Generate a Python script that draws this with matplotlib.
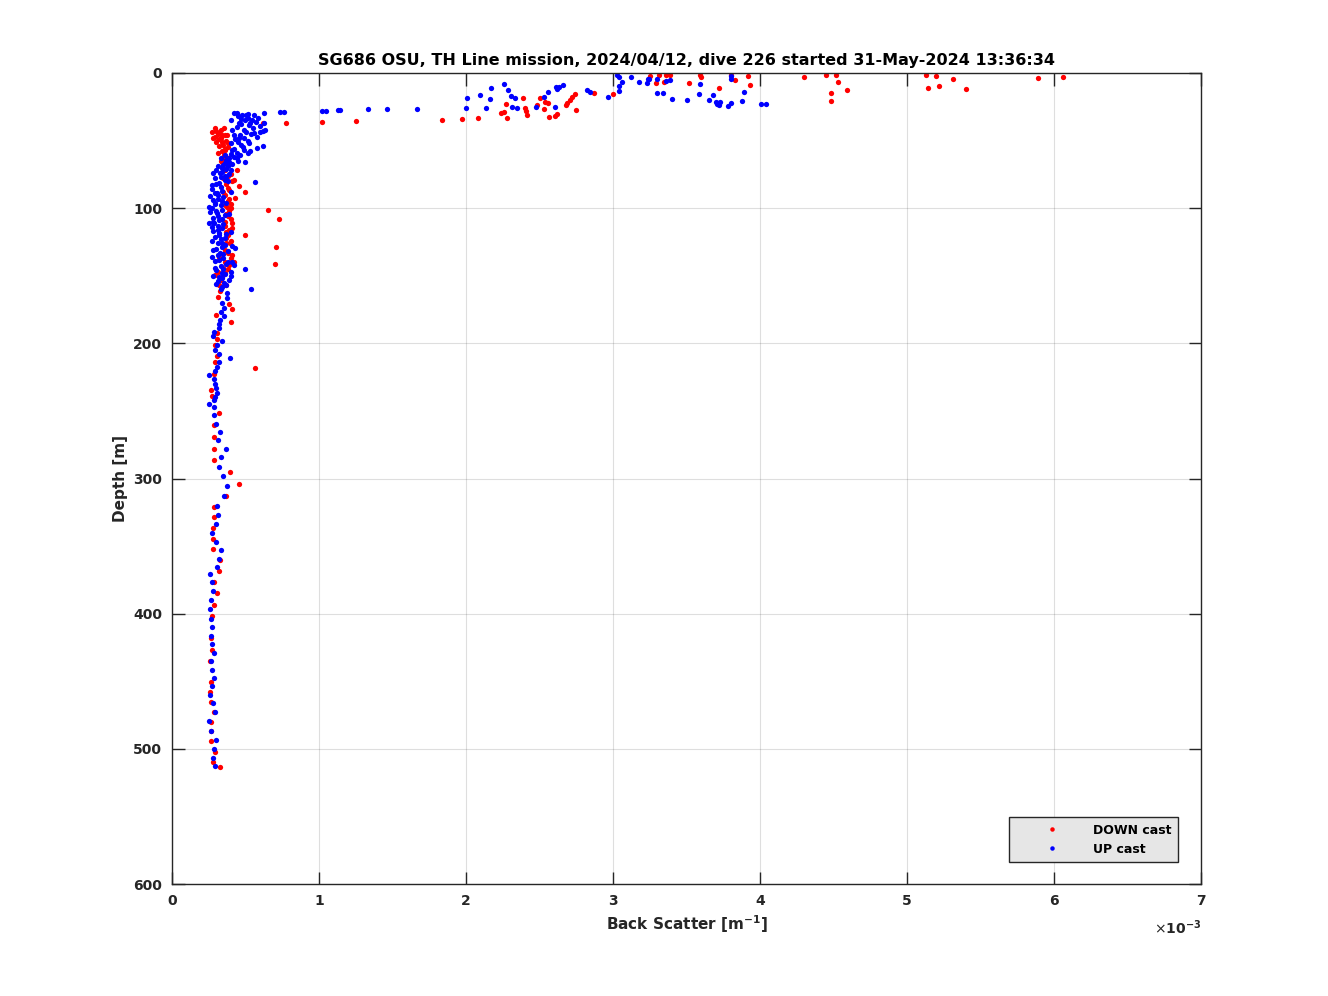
"""
SG686 dive 226 backscatter profile, down and up casts
"""

import numpy as np
import matplotlib.pyplot as plt

#------------------------------------------------------------------------------
# data: depth [m], back scatter [1e-3 m^-1]

down_depth = [3, 4, 12, 4.5, 9.5, 2, 11, 1.5,
              12.5, 7, 1.5, 15, 21, 1.5, 3,
              9, 2, 5, 1.5, 11, 7.4, 1.5, 3,
              2.2, 7.4, 1.5, 1.5, 1.5, 6.7, 15.5, 14.8,
              34.8, 34, 33.3, 29.6, 28.9, 33.3, 22.9, 18.5, 25.9, 28.1, 31.1,
              23.7, 18.5, 26.6, 21.5, 22.2, 32.6, 31.8, 30.3, 23.7, 22.2, 20.0,
              17.8, 15.5, 27.4, 36.3, 35.5, 37, 37,
              44.4, 40.7, 45.9, 51, 57, 60.7, 71.8, 79.2, 83.6, 88, 92.5, 86.6,
              99, 101.4, 108, 111, 119.8, 128.7, 141.3, 125.8, 136, 139.8, 149.4,
              42, 43, 45, 47, 48, 50, 53, 55, 58, 62, 65, 68, 75, 82, 90, 95, 97,
              104, 113, 116, 122, 131, 144, 147,
              100, 106, 110, 115, 118, 124, 128, 133, 137, 140, 145, 151, 85, 88,
              93, 78, 72, 66, 46, 49, 52,
              41, 44, 46, 48, 51, 54, 56, 59, 63, 70, 76, 80, 98, 102, 108, 120,
              126, 135, 142, 148, 153, 157,
              156.8, 161.3, 165.7, 170.9, 174.6, 179, 184, 192.3, 196.8, 201,
              209.4, 213.6, 218.5, 222.7, 234.5, 239, 251.5, 260.4, 269, 278,
              286.3, 295, 304, 313, 320.9, 328.7, 336.4,
              344.5, 352.4, 360.5, 368.4, 376.6, 384.7, 393.4, 401.7, 418.2,
              426.9, 435, 450.3, 457.7, 465.1, 472.7, 479.9, 486.8, 494, 502.1,
              509.5, 513.7]

down_bs = [6.06, 5.89, 5.40, 5.31, 5.22, 5.20, 5.14, 5.13,
           4.59, 4.53, 4.52, 4.48, 4.48, 4.45, 4.30,
           3.93, 3.92, 3.83, 3.80, 3.72, 3.52, 3.59, 3.60,
           3.25, 3.29, 3.31, 3.36, 3.39, 3.35, 3.00, 2.87,
           1.84, 1.97, 2.08, 2.24, 2.26, 2.28, 2.27, 2.39, 2.40, 2.41, 2.415,
           2.48, 2.50, 2.53, 2.54, 2.56, 2.565, 2.605, 2.62, 2.68, 2.69, 2.71,
           2.72, 2.74, 2.75, 1.02, 1.25, 0.776, 0.62,
           0.32, 0.354, 0.374, 0.34, 0.36, 0.354, 0.442, 0.42, 0.456, 0.497, 0.429, 0.388,
           0.374, 0.653, 0.728, 0.408, 0.497, 0.707, 0.70, 0.395, 0.32, 0.42, 0.293,
           0.33, 0.30, 0.31, 0.29, 0.33, 0.37, 0.35, 0.38, 0.34, 0.37, 0.33, 0.38, 0.40, 0.37, 0.36, 0.38, 0.40,
           0.37, 0.36, 0.39, 0.37, 0.36, 0.35, 0.31,
           0.40, 0.38, 0.36, 0.41, 0.37, 0.40, 0.35, 0.38, 0.40, 0.36, 0.38, 0.34, 0.38, 0.35,
           0.39, 0.35, 0.36, 0.34, 0.36, 0.32, 0.38,
           0.29, 0.27, 0.34, 0.28, 0.30, 0.32, 0.36, 0.31, 0.35, 0.35, 0.38, 0.41,
           0.36, 0.39, 0.40, 0.38, 0.37, 0.41, 0.39, 0.36, 0.33, 0.37,
           0.318, 0.329, 0.311, 0.39, 0.408, 0.299, 0.403, 0.306, 0.306, 0.295,
           0.306, 0.295, 0.567, 0.284, 0.268, 0.272, 0.318, 0.284, 0.284, 0.284,
           0.284, 0.395, 0.454, 0.367, 0.284, 0.288, 0.279,
           0.279, 0.279, 0.327, 0.318, 0.288, 0.308, 0.286, 0.27, 0.265,
           0.272, 0.261, 0.265, 0.256, 0.265, 0.284, 0.263, 0.265, 0.267, 0.293,
           0.281, 0.324]

up_depth = [25.9, 18.5, 16.3, 25.9, 19.2, 11.1, 8.1, 12.6, 17.0, 18.5, 25.2,
            25.9, 25.2, 17.8, 14.1, 10.4, 11.8, 10.4, 8.9, 25.2, 12.6, 14.1,
            17.8, 3.0, 6.7, 13.3, 9.6, 3.0, 6.7, 4.4, 7.4, 14.8, 14.8, 19.2,
            20.0, 15.5, 8.1, 20.0, 16.3, 21.5, 22.9, 23.7, 21.5, 24.4, 22.2,
            2.2, 4.4, 20.7, 14.1, 22.9, 22.9, 4.4, 4.4, 5.9, 5.2, 1.5,
            29.6, 29.6, 31.1, 30.3, 31.1, 29.6, 28.9, 28.9, 28.1, 28.1, 27.4,
            27.4, 26.6, 26.6, 26.6,
            33.3, 34.8, 34.8, 37, 38.5, 37, 43.6, 42.2, 42.2, 44.4, 45.9, 48.1,
            51.8, 55.5, 57, 59.2, 65.8, 62.9, 66.6, 70.3, 74, 80.6, 81.4, 88.8,
            96.2, 103.6, 111, 118.4, 125.8, 129.5, 133.2, 139.8, 145, 148, 155.4,
            159.8, 162.8, 166.5,
            68, 72, 76, 78, 84, 86, 90, 92, 94, 98, 100, 102, 105, 107, 109, 112,
            114, 116, 119, 121, 123, 127, 130, 132, 135, 137, 139, 141, 143, 146,
            149, 151, 153, 156, 158, 72, 80, 88, 96, 104, 118, 128, 142, 150,
            35, 38, 40, 41, 44, 46, 47, 49, 50, 52, 53, 54, 56, 58, 60, 61, 63,
            64, 67, 69, 73, 75, 77, 32, 33, 36, 39, 43,
            61, 63, 66, 69, 71, 74, 77, 79, 82, 83, 87, 89, 91, 93, 95, 97, 99,
            101, 103, 106, 108, 110, 111, 113, 115, 117, 120, 122, 124, 126, 129,
            131, 134, 136, 138, 140, 144, 145, 147, 150, 152, 154, 157, 160,
            31, 34, 37, 42, 45, 48, 51, 55, 57, 59, 62, 65,
            170.4, 173.6, 176.8, 179.8, 182.7, 185.7, 188.9, 191.8, 194.6, 198,
            201.2, 204.7, 207.7, 210.8, 214, 217.5, 220.2, 223.6, 226.6, 230.3,
            233.3, 236.5, 239.5, 242, 244.9, 247.3, 253.2, 259.4, 265.4, 271.5,
            278, 284.3, 291.3, 298.1, 305.5, 312.7, 320.1, 327, 333.9,
            340.6, 346.7, 353.1, 359.3, 365.5, 370.9, 376.8, 383.2, 389.9, 396.8,
            403.7, 410.1, 416.3, 422.7, 429.3, 435.2, 441.9, 447.6, 453.7, 459.9,
            466.3, 473, 479.6, 486.8, 493.5, 500.3, 507, 512.7]

up_bs = [2.00, 2.007, 2.095, 2.136, 2.163, 2.17, 2.26, 2.286, 2.306, 2.333, 2.313,
         2.347, 2.476, 2.53, 2.558, 2.612, 2.619, 2.633, 2.66, 2.605, 2.823, 2.844,
         2.966, 3.04, 3.06, 3.04, 3.04, 3.12, 3.18, 3.24, 3.23, 3.30, 3.34, 3.40,
         3.50, 3.585, 3.59, 3.65, 3.68, 3.70, 3.71, 3.72, 3.73, 3.78, 3.80,
         3.80, 3.80, 3.88, 3.89, 4.01, 4.04, 3.245, 3.30, 3.36, 3.39, 3.03,
         0.42, 0.44, 0.476, 0.517, 0.558, 0.626, 0.735, 0.762, 1.02, 1.05, 1.13,
         1.14, 1.33, 1.46, 1.67,
         0.585, 0.544, 0.497, 0.456, 0.524, 0.626, 0.60, 0.633, 0.49, 0.558, 0.42, 0.456,
         0.524, 0.578, 0.49, 0.442, 0.497, 0.388, 0.36, 0.34, 0.327, 0.565, 0.32, 0.306,
         0.293, 0.306, 0.286, 0.32, 0.34, 0.429, 0.327, 0.408, 0.497, 0.34, 0.354,
         0.537, 0.374, 0.374,
         0.35, 0.30, 0.36, 0.29, 0.33, 0.27, 0.31, 0.35, 0.28, 0.33, 0.27, 0.30,
         0.36, 0.28, 0.32, 0.35, 0.27, 0.31, 0.37, 0.29, 0.33, 0.36, 0.30, 0.38,
         0.31, 0.35, 0.29, 0.37, 0.33, 0.30, 0.36, 0.32, 0.39, 0.30, 0.34, 0.40,
         0.38, 0.40, 0.37, 0.39, 0.40, 0.41, 0.42, 0.40,
         0.40, 0.47, 0.44, 0.55, 0.50, 0.46, 0.58, 0.43, 0.52, 0.40, 0.47, 0.62,
         0.42, 0.53, 0.40, 0.46, 0.44, 0.37, 0.41, 0.38, 0.34, 0.39, 0.37, 0.45,
         0.52, 0.57, 0.60, 0.62,
         0.36, 0.33, 0.39, 0.31, 0.37, 0.28, 0.33, 0.36, 0.30, 0.27, 0.34, 0.29,
         0.26, 0.31, 0.34, 0.29, 0.25, 0.34, 0.26, 0.31, 0.34, 0.28, 0.25, 0.31,
         0.34, 0.28, 0.32, 0.36, 0.27, 0.31, 0.34, 0.28, 0.35, 0.27, 0.32, 0.38,
         0.29, 0.35, 0.40, 0.28, 0.34, 0.31, 0.37, 0.33,
         0.50, 0.47, 0.53, 0.41, 0.54, 0.49, 0.45, 0.48, 0.41, 0.52, 0.42, 0.45,
         0.34, 0.356, 0.331, 0.356, 0.329, 0.318, 0.318, 0.284, 0.281, 0.34,
         0.306, 0.29, 0.322, 0.397, 0.322, 0.306, 0.29, 0.254, 0.284, 0.29,
         0.301, 0.306, 0.29, 0.284, 0.254, 0.284, 0.284, 0.301, 0.324, 0.311,
         0.369, 0.333, 0.322, 0.347, 0.374, 0.352, 0.306, 0.311, 0.299,
         0.272, 0.301, 0.333, 0.318, 0.304, 0.259, 0.272, 0.277, 0.263, 0.259,
         0.263, 0.272, 0.265, 0.274, 0.288, 0.267, 0.27, 0.286, 0.27, 0.26,
         0.281, 0.29, 0.254, 0.263, 0.301, 0.284, 0.281, 0.293]

title = 'SG686 OSU, TH Line mission, 2024/04/12, dive 226 started 31-May-2024 13:36:34'

#------------------------------------------------------------------------------

axcol = (0.15, 0.15, 0.15)

fig = plt.figure(figsize=(13.28, 9.96), dpi=100)
ax = fig.add_axes([172/1328, 112/996, 1029/1328, 811/996])

ax.plot(np.array(down_bs)*1e-3, down_depth, 'o', color='red', markersize=3.8,
        markeredgewidth=0, label='DOWN cast')
ax.plot(np.array(up_bs)*1e-3, up_depth, 'o', color='blue', markersize=3.8,
        markeredgewidth=0, label='UP cast')

ax.set_xlim(0, 7e-3)
ax.set_ylim(600, 0)
ax.set_xticks(np.arange(0, 8)*1e-3)
ax.set_xticklabels([str(i) for i in range(8)])
ax.set_yticks(np.arange(0, 700, 100))

ax.grid(True, color=(0.15, 0.15, 0.15), alpha=0.15, linewidth=0.8)
ax.set_axisbelow(True)

ax.tick_params(direction='in', length=9, width=1, colors=axcol, labelsize=10,
               top=True, right=True, pad=7)
for lab in ax.get_xticklabels() + ax.get_yticklabels():
    lab.set_fontweight('bold')
    lab.set_color(axcol)
for s in ax.spines.values():
    s.set_color(axcol)
    s.set_linewidth(1)

ax.set_xlabel('Back Scatter [m$^{\\mathbf{-1}}$]', fontsize=11, fontweight='bold',
              color=axcol, labelpad=4)
ax.set_ylabel('Depth [m]', fontsize=11, fontweight='bold', color=axcol, labelpad=4)
ax.set_title(title, fontsize=11.5, fontweight='bold', pad=6)

ax.text(1.0, -0.043, '$\\times$10$^{\\mathbf{-3}}$', transform=ax.transAxes,
        ha='right', va='top', fontsize=10, fontweight='bold', color=axcol)

leg = ax.legend(loc='lower right', bbox_to_anchor=(0.9775, 0.027),
                prop={'weight': 'bold', 'size': 9}, frameon=True, fancybox=False,
                markerscale=0.85, handletextpad=0.4, borderpad=0.5,
                handlelength=5.8, borderaxespad=0, numpoints=1)
leg.get_frame().set_facecolor((0.9, 0.9, 0.9))
leg.get_frame().set_edgecolor(axcol)
leg.get_frame().set_alpha(1)

plt.savefig('out.png', dpi=100)
